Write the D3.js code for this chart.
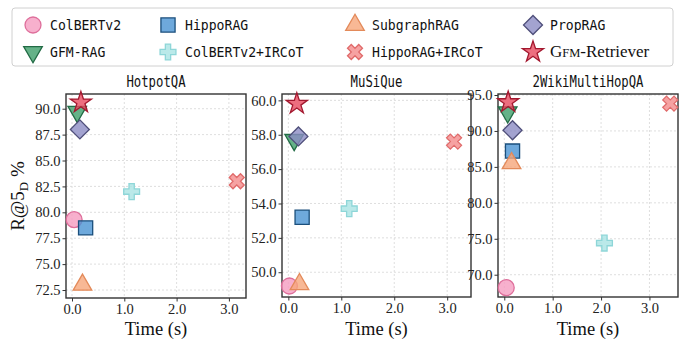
<!DOCTYPE html>
<html><head><meta charset="utf-8">
<script src="https://cdn.jsdelivr.net/npm/d3@7"></script>
<style>body{margin:0;background:#fff}svg{display:block}</style>
</head><body>
<svg id="c" width="683" height="339"></svg>
<script>
// Method order (matches legend, column-major)
const methods = ["ColBERTv2","GFM-RAG","HippoRAG","ColBERTv2+IRCoT","SubgraphRAG","HippoRAG+IRCoT","PropRAG","GFM-Retriever"];
const datasets = ["HotpotQA","MuSiQue","2WikiMultiHopQA"];
const hotpotTime   = [0.04, 0.10, 0.26, 1.14, 0.20, 3.15, 0.15, 0.17];
const hotpotRecall = [79.3, 89.7, 78.5, 82.0, 73.0, 83.0, 88.0, 90.6];
const musiqueTime   = [0.02, 0.11, 0.26, 1.15, 0.21, 3.13, 0.19, 0.16];
const musiqueRecall = [49.2, 57.7, 53.2, 53.7, 49.3, 57.6, 57.9, 59.8];
const wikiTime   = [0.04, 0.07, 0.17, 2.07, 0.15, 3.43, 0.17, 0.08];
const wikiRecall = [68.2, 92.6, 87.2, 74.4, 85.5, 93.8, 90.1, 94.0];
const xTicks = [0, 1, 2, 3];
const hotpotTicks = [72.5, 75, 77.5, 80, 82.5, 85, 87.5, 90];
const musiqueTicks = [50, 52, 54, 56, 58, 60];
const wikiTicks = [70, 75, 80, 85, 90, 95];

const styles = {
  "ColBERTv2":       {shape:"circle",  fill:"#f59cc0", stroke:"#de6f9b", size:200},
  "GFM-RAG":         {shape:"tridown", fill:"#3f9f6a", stroke:"#226b45", size:150},
  "HippoRAG":        {shape:"square",  fill:"#4a93d3", stroke:"#1b4f7c", size:200},
  "ColBERTv2+IRCoT": {shape:"plus",    fill:"#a9e3e3", stroke:"#8ed6d8", size:140},
  "SubgraphRAG":     {shape:"triup",   fill:"#f6a67a", stroke:"#e38a5a", size:150},
  "HippoRAG+IRCoT":  {shape:"x",       fill:"#f48b8b", stroke:"#e06a6a", size:140},
  "PropRAG":         {shape:"diamond", fill:"#8c8cc4", stroke:"#4f4f7a", size:180},
  "GFM-Retriever":   {shape:"star",    fill:"#e84a5f", stroke:"#a3182f", size:140}
};

function symPath(shape, size){
  switch(shape){
    case "circle": return {d:d3.symbol(d3.symbolCircle,size)(), rot:0};
    case "square": return {d:d3.symbol(d3.symbolSquare,size)(), rot:0};
    case "diamond": return {d:d3.symbol(d3.symbolSquare,size)(), rot:45};
    case "triup": return {d:d3.symbol(d3.symbolTriangle,size)(), rot:0};
    case "tridown": return {d:d3.symbol(d3.symbolTriangle,size)(), rot:180};
    case "plus": return {d:d3.symbol(d3.symbolCross,size)(), rot:0};
    case "x": return {d:d3.symbol(d3.symbolCross,size)(), rot:45};
    case "star": return {d:d3.symbol(d3.symbolStar,size)(), rot:0};
  }
}

const svg = d3.select("#c");
const serif = "'Liberation Serif','DejaVu Serif',serif";
const mono = "'DejaVu Sans Mono',monospace";

const panels = [
  {title:datasets[0], t:hotpotTime, r:hotpotRecall, ticks:hotpotTicks, box:[66,246,94,298], xd:[-0.115,3.327], yd:[71.73,91.42]},
  {title:datasets[1], t:musiqueTime, r:musiqueRecall, ticks:musiqueTicks, box:[282,471,94,297], xd:[-0.12,3.45], yd:[48.56,60.37]},
  {title:datasets[2], t:wikiTime, r:wikiRecall, ticks:wikiTicks, box:[498,678,94,297], xd:[-0.13,3.59], yd:[66.9,95.14]}
];

panels.forEach(p=>{
  const [l,r,t,b] = p.box;
  const x = d3.scaleLinear().domain(p.xd).range([l,r]);
  const y = d3.scaleLinear().domain(p.yd).range([b,t]);
  const g = svg.append("g");
  g.selectAll(".vg").data(xTicks).join("line")
    .attr("x1",d=>x(d)).attr("x2",d=>x(d)).attr("y1",t).attr("y2",b)
    .attr("stroke","#d6d6d6").attr("stroke-width",0.8).attr("stroke-dasharray","2,2");
  g.selectAll(".hg").data(p.ticks).join("line")
    .attr("x1",l).attr("x2",r).attr("y1",d=>y(d)).attr("y2",d=>y(d))
    .attr("stroke","#d6d6d6").attr("stroke-width",0.8).attr("stroke-dasharray","2,2");
  const xa = g.append("g").attr("transform",`translate(0,${b})`)
    .call(d3.axisBottom(x).tickValues(xTicks).tickFormat(d3.format(".1f")).tickSize(3.5).tickPadding(2));
  const ya = g.append("g").attr("transform",`translate(${l},0)`)
    .call(d3.axisLeft(y).tickValues(p.ticks).tickFormat(d3.format(".1f")).tickSize(3.5).tickPadding(2));
  [xa,ya].forEach(a=>{
    a.select(".domain").remove();
    a.selectAll("line").attr("stroke","#333");
    a.selectAll("text").attr("font-family",serif).attr("font-size",14.5).attr("fill","#222");
  });
  g.append("rect").attr("x",l).attr("y",t).attr("width",r-l).attr("height",b-t)
    .attr("fill","none").attr("stroke","#333").attr("stroke-width",1.4);
  g.append("text").attr("x",(l+r)/2).attr("y",t-7).attr("text-anchor","middle")
    .attr("font-family",mono).attr("font-size",15).attr("fill","#111")
    .attr("textLength",p.title.length*7.4).attr("lengthAdjust","spacingAndGlyphs").text(p.title);
  g.append("text").attr("x",(l+r)/2).attr("y",335).attr("text-anchor","middle")
    .attr("font-family",serif).attr("font-size",18.5).attr("fill","#111").text("Time (s)");
  methods.forEach((m,i)=>{
    const s = styles[m]; const sp = symPath(s.shape,s.size);
    g.append("path").attr("d",sp.d)
      .attr("transform",`translate(${x(p.t[i])},${y(p.r[i])}) rotate(${sp.rot})`)
      .attr("fill",s.fill).attr("fill-opacity",0.8)
      .attr("stroke",s.stroke).attr("stroke-width",1.3);
  });
});

const yl = svg.append("text").attr("transform","translate(24,196) rotate(-90)")
  .attr("text-anchor","middle").attr("font-family",serif).attr("font-size",19).attr("fill","#111");
yl.append("tspan").text("R@5");
yl.append("tspan").attr("font-size",13).attr("dy",4).text("D");
yl.append("tspan").attr("dy",-4).attr("font-size",19).text(" %");

const leg = svg.append("g");
leg.append("rect").attr("x",12).attr("y",8).attr("width",661).attr("height",58).attr("rx",3)
  .attr("fill","#fff").attr("stroke","#d0d0d0").attr("stroke-width",1);
const colX = [33, 168, 355, 533];
const rowY = [25, 52];
methods.forEach((m,i)=>{
  const col = Math.floor(i/2), row = i%2;
  const s = styles[m]; const sp = symPath(s.shape,s.size);
  const cx = colX[col], cy = rowY[row];
  leg.append("path").attr("d",sp.d)
    .attr("transform",`translate(${cx},${cy}) rotate(${sp.rot})`)
    .attr("fill",s.fill).attr("fill-opacity",0.8).attr("stroke",s.stroke).attr("stroke-width",1.3);
  const tx = leg.append("text").attr("x",cx+17).attr("y",cy+5).attr("fill","#111");
  if(m==="GFM-Retriever"){
    tx.attr("font-family",serif).attr("font-size",17);
    tx.append("tspan").text("G");
    tx.append("tspan").attr("font-size",12.5).text("FM");
    tx.append("tspan").text("-Retriever");
  } else {
    tx.attr("font-family",mono).attr("font-size",14.5)
      .attr("textLength",m.length*7.9).attr("lengthAdjust","spacingAndGlyphs").text(m);
  }
});
</script>
</body></html>
